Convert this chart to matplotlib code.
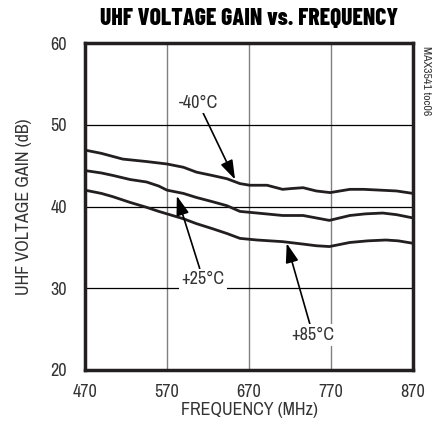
import matplotlib
matplotlib.use("Agg")
import matplotlib.pyplot as plt

BODY = ['Liberation Sans Narrow', 'Archivo Narrow', 'DejaVu Sans']
TITLE = ['Barlow Condensed', 'Liberation Sans Narrow', 'DejaVu Sans']
plt.rcParams['font.family'] = BODY

freq_m40 = [470, 490, 516, 545, 570, 590, 606, 625, 643, 659, 671, 692, 711, 722, 736, 752, 769, 793, 810, 830, 850, 870]
gain_m40 = [46.9, 46.5, 45.8, 45.5, 45.2, 44.8, 44.2, 43.8, 43.4, 42.8, 42.6, 42.6, 42.1, 42.2, 42.3, 41.9, 41.7, 42.1, 42.1, 42.0, 41.9, 41.6]

freq_25 = [470, 490, 504, 525, 545, 560, 570, 590, 606, 625, 643, 659, 680, 711, 736, 752, 768, 793, 812, 833, 850, 870]
gain_25 = [44.4, 44.1, 43.8, 43.3, 43.0, 42.5, 42.0, 41.6, 41.1, 40.6, 40.1, 39.4, 39.2, 38.9, 38.9, 38.6, 38.3, 38.9, 39.1, 39.2, 39.0, 38.6]

freq_85 = [470, 490, 504, 525, 545, 560, 570, 590, 606, 625, 643, 659, 680, 711, 736, 752, 768, 793, 815, 837, 852, 870]
gain_85 = [42.0, 41.6, 41.2, 40.5, 39.9, 39.4, 39.1, 38.5, 37.9, 37.3, 36.7, 36.1, 35.9, 35.7, 35.4, 35.2, 35.1, 35.6, 35.8, 35.9, 35.8, 35.5]

x_ticks = [470, 570, 670, 770, 870]
y_ticks = [20, 30, 40, 50, 60]

fig = plt.figure(figsize=(4.36, 4.33), dpi=100)
ax = fig.add_axes([85/436, 1-370/433, (413-85)/436, (370-43)/433])

for f, g in [(freq_m40, gain_m40), (freq_25, gain_25), (freq_85, gain_85)]:
    ax.plot(f, g, color='#231f20', lw=2.0, solid_capstyle='round', solid_joinstyle='round', zorder=3)

ax.set_xlim(470, 870)
ax.set_ylim(20, 60)
ax.set_xticks(x_ticks)
ax.set_yticks(y_ticks)
ax.tick_params(length=0, labelsize=13, colors='#333333')
ax.tick_params(axis='x', pad=10)
ax.tick_params(axis='y', pad=13)
for x in x_ticks[1:-1]:
    ax.axvline(x, color='#808080', lw=1.0, zorder=1)
for y in y_ticks[1:-1]:
    ax.axhline(y, color='black', lw=0.9, zorder=1)
for s in ax.spines.values():
    s.set_linewidth(2.5)
    s.set_color('#231f20')

ax.set_xlabel('FREQUENCY (MHz)', fontsize=13, color='#333333', va='center')
ax.xaxis.set_label_coords(0.5, -(410-370)/327)
ax.set_ylabel('UHF VOLTAGE GAIN (dB)', fontsize=13, color='#333333', va='center')
ax.yaxis.set_label_coords(-(85-24)/328, 0.5)

fig.text(249/436, 1-19/433, 'UHF VOLTAGE GAIN vs. FREQUENCY', ha='center', va='center',
         fontsize=17, fontweight=800, color='black', family=TITLE)
fig.text(426/436, 1-81/433, 'MAX3541 toc06', rotation=-90, ha='center', va='center',
         fontsize=8.5, color='#333333')

arrow = dict(arrowstyle='-|>,head_length=0.9,head_width=0.3', color='black', lw=1.2, shrinkA=0, shrinkB=0)
bbox = dict(boxstyle='square,pad=0.15', fc='white', ec='none')
ax.annotate('-40°C', xy=(653, 43.3), xytext=(608, 52.7), ha='center', va='center', color='#333333',
            fontsize=13, arrowprops=arrow, bbox=bbox, zorder=4)
ax.annotate('+25°C', xy=(582, 41.3), xytext=(614, 31.1), ha='center', va='center', color='#333333',
            fontsize=13, arrowprops=arrow, bbox=bbox, zorder=4)
ax.annotate('+85°C', xy=(716, 35.5), xytext=(748, 24.3), ha='center', va='center', color='#333333',
            fontsize=13, arrowprops=arrow, bbox=bbox, zorder=4)

fig.savefig('out.png', dpi=100)
